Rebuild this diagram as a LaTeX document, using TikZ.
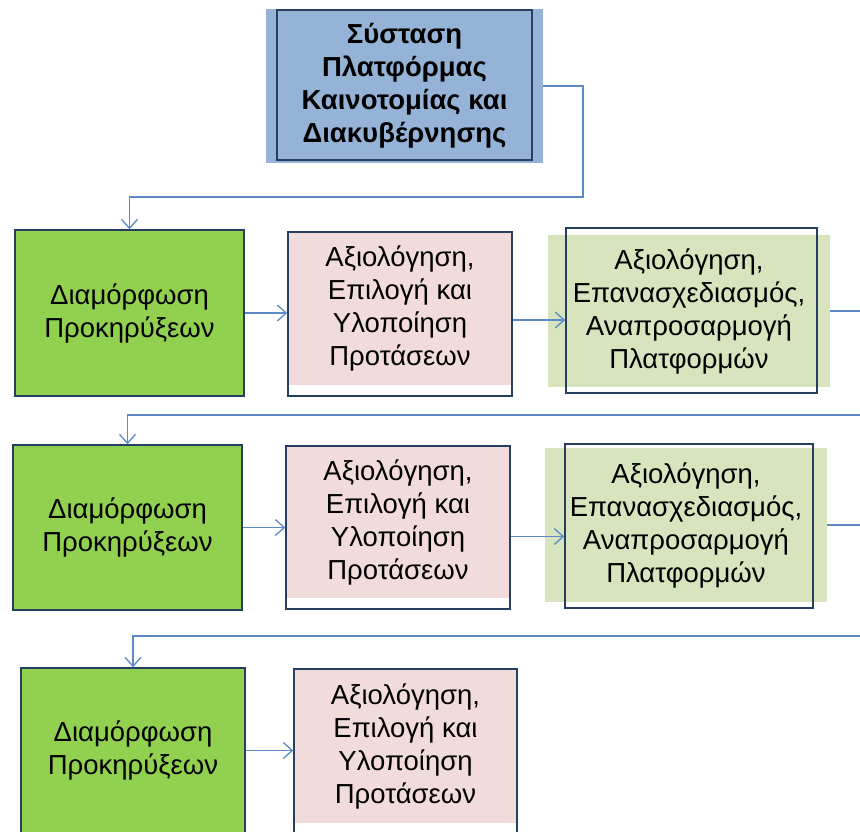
\documentclass[tikz,border=0pt]{standalone}
\usepackage{fontspec}
\setmainfont{Liberation Sans}
\usetikzlibrary{arrows.meta}

\definecolor{platform}{HTML}{95B3D7}
\definecolor{callgreen}{HTML}{92D050}
\definecolor{evalpink}{HTML}{F2DCDB}
\definecolor{redesign}{HTML}{D7E4BD}
\definecolor{navy}{HTML}{243F60}
\definecolor{linkblue}{HTML}{5B8AC6}

\begin{document}
\begin{tikzpicture}[x=1pt, y=-1pt,
    plate/.style={inner sep=0pt, align=center, text=black, font=\fontsize{27.5}{33}\selectfont},
    frame/.style={draw=navy, line width=1.5pt, inner sep=0pt},
    callbox/.style={plate, fill=callgreen, draw=navy, line width=1.5pt},
    link/.style={draw=linkblue, line width=1.3pt, -{Straight Barb[length=9pt,width=16pt]}}]

    \useasboundingbox (0,0) rectangle (860,831);
    \clip (0,0) rectangle (860,831);

    % Platform
    \node[plate, fill=platform, minimum width=277pt, minimum height=154pt,
          font=\fontsize{27.5}{33}\selectfont\bfseries] (setup) at (404.5,86)
          {Σύσταση\\Πλατφόρμας\\Καινοτομίας και\\Διακυβέρνησης};
    \node[frame, minimum width=255pt, minimum height=150pt] (setupf) at (404.5,85) {};

    % Row 1
    \node[callbox, minimum width=229pt, minimum height=166pt] (call1) at (129.5,313) {Διαμόρφωση\\Προκηρύξεων};
    \node[plate, fill=evalpink, minimum width=224pt, minimum height=153pt] (eval1) at (400,308.5)
          {Αξιολόγηση,\\Επιλογή και\\Υλοποίηση\\Προτάσεων};
    \node[frame, minimum width=224pt, minimum height=164pt] (eval1f) at (400,314) {};
    \node[plate, fill=redesign, minimum width=282pt, minimum height=152pt] (redesign1) at (689,311)
          {Αξιολόγηση,\\Επανασχεδιασμός,\\Αναπροσαρμογή\\Πλατφορμών};
    \node[frame, minimum width=251pt, minimum height=165pt] (redesign1f) at (691.5,310.5) {};

    % Row 2
    \node[callbox, minimum width=229pt, minimum height=165pt] (call2) at (127.5,527.5) {Διαμόρφωση\\Προκηρύξεων};
    \node[plate, fill=evalpink, minimum width=224pt, minimum height=152pt] (eval2) at (398,522)
          {Αξιολόγηση,\\Επιλογή και\\Υλοποίηση\\Προτάσεων};
    \node[frame, minimum width=224pt, minimum height=163pt] (eval2f) at (398,527.5) {};
    \node[plate, fill=redesign, minimum width=282pt, minimum height=154pt] (redesign2) at (686,525)
          {Αξιολόγηση,\\Επανασχεδιασμός,\\Αναπροσαρμογή\\Πλατφορμών};
    \node[frame, minimum width=248pt, minimum height=164pt] (redesign2f) at (689,526) {};

    % Row 3 (cut by the page edge)
    \node[callbox, minimum width=224pt, minimum height=165pt] (call3) at (133,750.5) {Διαμόρφωση\\Προκηρύξεων};
    \node[plate, fill=evalpink, minimum width=223pt, minimum height=154pt] (eval3) at (405.5,746)
          {Αξιολόγηση,\\Επιλογή και\\Υλοποίηση\\Προτάσεων};
    \node[frame, minimum width=223pt, minimum height=165pt] (eval3f) at (405.5,751.5) {};

    % connectors
    \coordinate (drop0) at (583,197);
    \coordinate (turn1) at (870,415);
    \coordinate (turn2) at (870,636);
    \draw[link] (setup.east) -| (drop0) -| (call1.north);
    \draw[link] (call1.east) -- (call1.east -| eval1f.west);
    \draw[link] ([yshift=-6pt]eval1f.east) -- ([yshift=-6pt]eval1f.east -| redesign1f.west);
    \draw[link] (redesign1.east) -| (turn1) -| (call2.north);
    \draw[link] (call2.east) -- (call2.east -| eval2f.west);
    \draw[link] ([yshift=-9pt]eval2f.east) -- ([yshift=-9pt]eval2f.east -| redesign2f.west);
    \draw[link] (redesign2.east) -| (turn2) -| (call3.north);
    \draw[link] (call3.east) -- (call3.east -| eval3f.west);
\end{tikzpicture}
\end{document}
